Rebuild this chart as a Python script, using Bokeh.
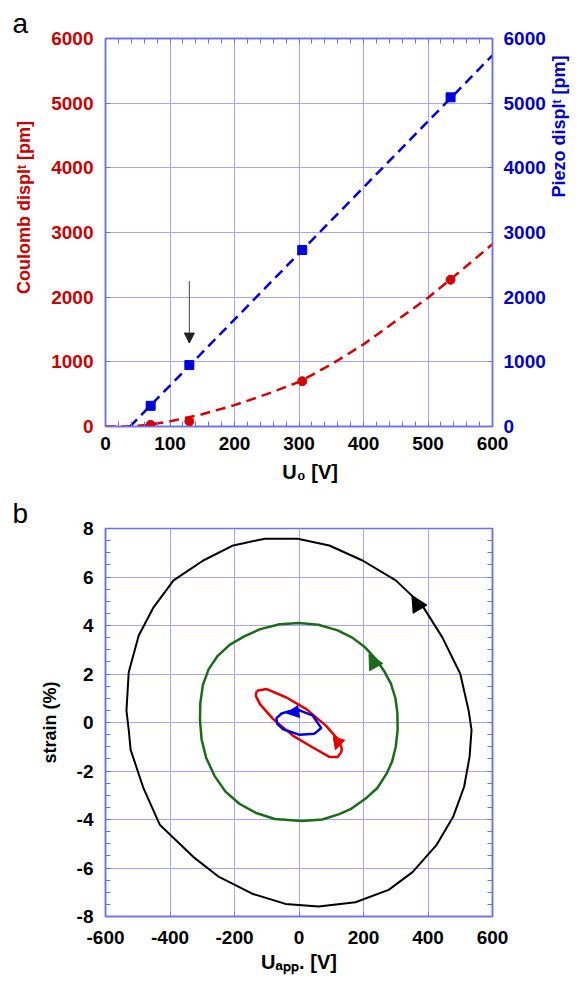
import math
from bokeh.plotting import figure
from bokeh.layouts import column
from bokeh.models import (Range1d, LinearAxis, SingleIntervalTicker, Arrow, NormalHead, Grid,
                          PrintfTickFormatter)
from bokeh.embed import file_html
from bokeh.resources import INLINE

# ---------------- Panel a data ----------------
u0_points = [70, 130, 305, 535]
coulomb_pm = [25, 80, 700, 2270]
piezo_pm = [320, 950, 2730, 5090]
coulomb_fit_u = [0, 30, 50, 70, 100, 150, 200, 250, 300, 350, 400, 450, 500, 550, 600]
coulomb_fit_pm = [0, 0, 10, 30, 80, 190, 330, 500, 690, 960, 1270, 1630, 1990, 2400, 2820]
piezo_fit_u = [38, 600]
piezo_fit_pm = [0, 5740]
marker_u = 130
marker_from_pm = 2250
marker_to_pm = 1290

# ---------------- Panel b data ----------------
black_u = [61, 175, 278, 352, 426, 478, 512, 529, 535, 526, 500, 444, 382, 300, 197, 94, -4,
           -106, -204, -297, -389, -451, -497, -528, -535, -528, -522, -482, -431, -328, -248,
           -145, -42, 61]
black_s = [-7.59, -7.41, -6.90, -6.17, -5.06, -3.89, -2.65, -1.41, -0.30, 0.49, 2.01, 3.52, 4.83,
           5.86, 6.68, 7.30, 7.58, 7.58, 7.30, 6.68, 5.86, 4.75, 3.59, 2.07, 0.49, -0.30, -1.13,
           -2.72, -4.23, -5.54, -6.37, -7.06, -7.48, -7.59]
green_u = [9, 72, 125, 163, 210, 243, 272, 289, 300, 306, 305, 299, 285, 265, 239, 205, 165, 120,
           60, 0, -60, -120, -170, -215, -252, -280, -298, -306, -307, -302, -288, -262, -228,
           -185, -135, -75, 9]
green_s = [-4.06, -4.0, -3.78, -3.55, -3.1, -2.7, -2.1, -1.6, -1.0, -0.3, 0.4, 1.0, 1.6, 2.1,
           2.6, 3.1, 3.5, 3.8, 4.03, 4.1, 4.05, 3.85, 3.55, 3.2, 2.75, 2.2, 1.55, 0.8, 0.1, -0.7,
           -1.45, -2.2, -2.85, -3.35, -3.72, -3.98, -4.06]
red_u = [-131, -100, -39, 23, 84, 125, 133, 130, 120, 94, 43, -18, -80, -121, -134, -131]
red_s = [1.31, 1.38, 1.03, 0.55, -0.14, -0.76, -1.10, -1.24, -1.42, -1.42, -1.03, -0.55, 0.14,
         0.76, 1.10, 1.31]
blue_u = [-8, -54, -70, -68, -49, 2, 48, 69, 43, -8]
blue_s = [0.55, 0.37, 0.18, -0.04, -0.28, -0.51, -0.46, -0.23, 0.28, 0.55]

# arrow heads: (tail_u, tail_s, tip_u, tip_s)
black_arrow = (433, 3.38, 350, 5.24)
green_arrow = (279, 1.32, 217, 2.83)
red_arrow = (125, -0.60, 113, -1.13)
blue_arrow = (7, 0.47, -38, 0.38)

FONT = "Liberation Sans"
GRID = "#a6a6ff"
FRAME = "#6e6ef0"
RED = "#d40000"
RED_TXT = "#c80000"
BLUE = "#0000d8"
BLUE_TXT = "#0000c8"
GREEN = "#1b6b1b"
NB = "\u00a0"


def style_axis(ax, color, labels=True, minor=False, standoff=12):
    ax.axis_line_color = FRAME
    ax.axis_line_width = 1.5
    ax.major_tick_in = 5
    ax.major_tick_out = 0
    ax.major_tick_line_color = FRAME
    ax.minor_tick_in = 5 if minor else 0
    ax.minor_tick_out = 0
    ax.minor_tick_line_color = FRAME if minor else None
    ax.major_label_text_font = FONT
    ax.major_label_text_font_style = "bold"
    ax.major_label_text_font_size = "19px"
    ax.major_label_text_color = color
    ax.major_label_standoff = standoff
    ax.formatter = PrintfTickFormatter(format="%d")
    ax.axis_label_text_font = FONT
    ax.axis_label_text_font_style = "bold"
    ax.axis_label_text_color = color
    if not labels:
        ax.major_label_text_color = None
        ax.major_label_standoff = 0


def panel_letter(p, letter, offset, standoff):
    p.title.text = letter
    p.title.align = "left"
    p.title.offset = offset
    p.title.standoff = standoff
    p.title.text_font = FONT
    p.title.text_font_style = "normal"
    p.title.text_font_size = "28px"
    p.title.text_color = "black"


# ---------------- Panel a ----------------
p1 = figure(width=581, height=488, x_range=Range1d(0, 600), y_range=Range1d(0, 6000),
            output_backend="svg", toolbar_location=None, x_axis_type=None, y_axis_type=None,
            min_border_left=105, min_border_right=87, min_border_top=38, min_border_bottom=62)
p1.outline_line_color = FRAME
p1.outline_line_width = 1.5
p1.background_fill_color = "white"
p1.border_fill_color = "white"
panel_letter(p1, "a", -93, 0)

xt1 = SingleIntervalTicker(interval=100, num_minor_ticks=5)
yt1 = SingleIntervalTicker(interval=1000, num_minor_ticks=0)
xb1 = LinearAxis(ticker=xt1)
style_axis(xb1, "black", minor=True, standoff=10)
xb1.axis_label = NB * 4 + "U₀ [V]"
xb1.axis_label_text_font_size = "20px"
xb1.axis_label_standoff = 8
xa1 = LinearAxis(ticker=xt1)
style_axis(xa1, "black", labels=False, minor=True)
yl1 = LinearAxis(ticker=yt1)
style_axis(yl1, RED_TXT)
yl1.axis_label = NB * 10 + "Coulomb displᵗ [pm]"
yl1.axis_label_text_font_size = "18px"
yl1.axis_label_standoff = 14
yr1 = LinearAxis(ticker=yt1)
style_axis(yr1, BLUE_TXT, standoff=11)
yr1.axis_label = NB * 7 + "Piezo displᵗ [pm]"
yr1.axis_label_text_font_size = "18px"
yr1.axis_label_standoff = 10
yr1.axis_label_orientation = math.pi / 2
p1.add_layout(xb1, "below")
p1.add_layout(xa1, "above")
p1.add_layout(yl1, "left")
p1.add_layout(yr1, "right")
p1.add_layout(Grid(dimension=0, ticker=xt1, grid_line_color=GRID, grid_line_width=1))
p1.add_layout(Grid(dimension=1, ticker=yt1, grid_line_color=GRID, grid_line_width=1))

p1.line(coulomb_fit_u, coulomb_fit_pm, line_color=RED, line_width=2.5, line_dash="10 6")
p1.line(piezo_fit_u, piezo_fit_pm, line_color=BLUE, line_width=2.5, line_dash="10 6")
p1.scatter(u0_points, coulomb_pm, marker="circle", size=9, fill_color=RED, line_color=RED)
p1.scatter(u0_points, piezo_pm, marker="square", size=9, fill_color=BLUE, line_color=BLUE)
p1.add_layout(Arrow(end=NormalHead(size=10, fill_color="#222222", line_color="#222222"),
                    x_start=marker_u, y_start=marker_from_pm, x_end=marker_u, y_end=marker_to_pm,
                    line_color="#444444", line_width=1))

# ---------------- Panel b ----------------
p2 = figure(width=581, height=496, x_range=Range1d(-600, 600), y_range=Range1d(-8, 8),
            output_backend="svg", toolbar_location=None, x_axis_type=None, y_axis_type=None,
            min_border_left=105, min_border_right=87, min_border_top=40, min_border_bottom=68)
p2.outline_line_color = FRAME
p2.outline_line_width = 1.5
p2.background_fill_color = "white"
p2.border_fill_color = "white"
panel_letter(p2, "b", -93, 0)

xt2 = SingleIntervalTicker(interval=200, num_minor_ticks=0)
yt2 = SingleIntervalTicker(interval=2, num_minor_ticks=4)
xb2 = LinearAxis(ticker=xt2)
style_axis(xb2, "black", standoff=14)
xb2.axis_label = "Uₐₚₚ. [V]"
xb2.axis_label_text_font_size = "20px"
xb2.axis_label_standoff = 4
yl2 = LinearAxis(ticker=yt2)
style_axis(yl2, "black", minor=True)
yl2.axis_label = "strain (%)"
yl2.axis_label_text_font_size = "18px"
yl2.axis_label_standoff = 14
yr2 = LinearAxis(ticker=yt2)
style_axis(yr2, "black", labels=False, minor=True)
p2.add_layout(xb2, "below")
p2.add_layout(yl2, "left")
p2.add_layout(yr2, "right")
p2.add_layout(Grid(dimension=0, ticker=xt2, grid_line_color=GRID, grid_line_width=1))
p2.add_layout(Grid(dimension=1, ticker=yt2, grid_line_color=GRID, grid_line_width=1))

p2.line(black_u, black_s, line_color="black", line_width=2)
p2.line(green_u, green_s, line_color=GREEN, line_width=2.5)
p2.line(red_u, red_s, line_color="#e00000", line_width=2.5)
p2.line(blue_u, blue_s, line_color="#0000e0", line_width=2.5)

for (tu, ts, hu, hs), col, sz in [(black_arrow, "black", 16), (green_arrow, GREEN, 15),
                                  (red_arrow, "#e00000", 12), (blue_arrow, "#0000e0", 12)]:
    p2.add_layout(Arrow(end=NormalHead(size=sz, fill_color=col, line_color=col),
                        x_start=tu, y_start=ts, x_end=hu, y_end=hs, line_alpha=0))

layout = column(p1, p2, spacing=0)
open("out.html", "w").write(file_html(layout, INLINE))
